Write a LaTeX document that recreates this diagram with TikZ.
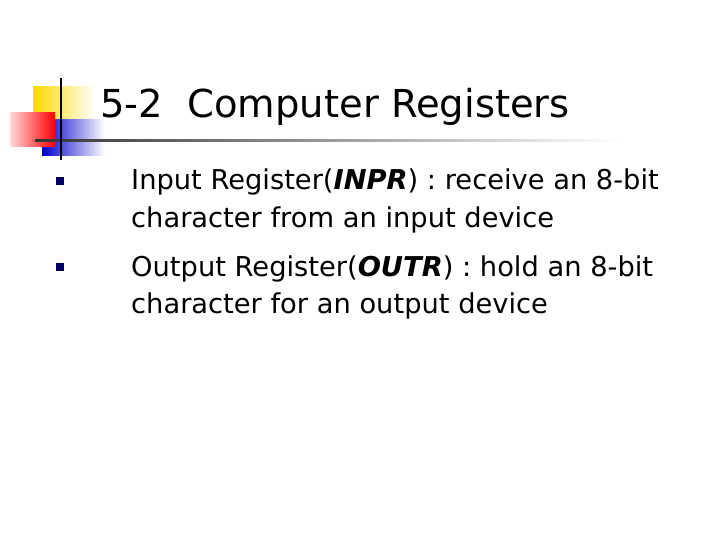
\documentclass[tikz,border=0pt]{standalone}
\usepackage{fontspec}
\setmainfont{DejaVu Sans}
\begin{document}
\begin{tikzpicture}[x=1pt,y=-1pt,
  body/.style={anchor=base west,inner sep=0pt,font=\fontsize{27.3}{30}\selectfont},
  bul/.style={fill=blue!40!black,minimum size=8pt,inner sep=0pt}]
\useasboundingbox[fill=white] (0,0) rectangle (720,540);
\shade[left color=yellow!70!orange,right color=white] (33,87) rectangle (95,122);
\shade[left color=blue!80!black,right color=white] (42,120) rectangle (105,156);
\shade[left color=red!15,right color=red] (10,113) rectangle (55,147);
\shade[left color=black!80,right color=white] (35,140) rectangle (620,142);
\draw[line width=2pt] (61,78) -- (61,160);
\node[anchor=base west,inner sep=0pt,font=\fontsize{38.5}{40}\selectfont] (t) at (100,118) {5-2\ \ Computer Registers};
\node[bul] (b1) at (60,181) {};
\node[bul] (b2) at (60,267) {};
\node[body] (l1) at (131,190) {Input Register(\textit{\textbf{INPR}}) : receive an 8-bit};
\node[body] (l2) at (131,227) {character from an input device};
\node[body] (l3) at (131,276) {Output Register(\textit{\textbf{OUTR}}) : hold an 8-bit};
\node[body] (l4) at (131,313) {character for an output device};
\end{tikzpicture}
\end{document}
